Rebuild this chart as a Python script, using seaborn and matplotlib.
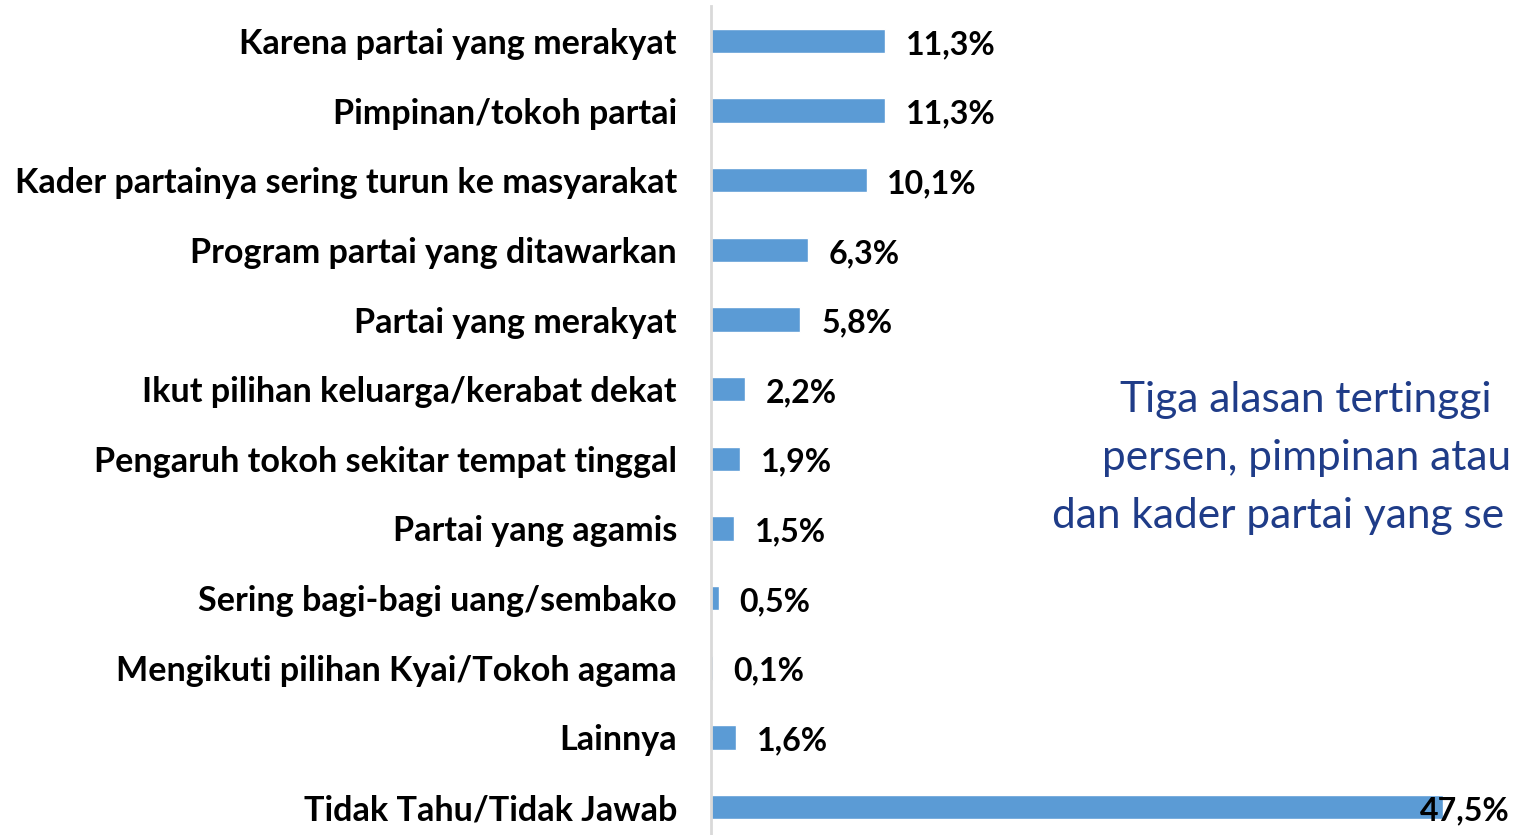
import matplotlib
matplotlib.use("Agg")
import matplotlib.pyplot as plt
import seaborn as sns

# ---------------- data ----------------
categories = [
    "Karena partai yang merakyat",
    "Pimpinan/tokoh partai",
    "Kader partainya sering turun ke masyarakat",
    "Program partai yang ditawarkan",
    "Partai yang merakyat",
    "Ikut pilihan keluarga/kerabat dekat",
    "Pengaruh tokoh sekitar tempat tinggal",
    "Partai yang agamis",
    "Sering bagi-bagi uang/sembako",
    "Mengikuti pilihan Kyai/Tokoh agama",
    "Lainnya",
    "Tidak Tahu/Tidak Jawab",
]
values = [11.3, 11.3, 10.1, 6.3, 5.8, 2.2, 1.9, 1.5, 0.5, 0.1, 1.6, 47.5]
value_labels = [f"{v:.1f}%".replace(".", ",") for v in values]
note_lines = [
    "Tiga alasan tertinggi",
    "persen, pimpinan atau",
    "dan kader partai yang se",
]

# ---------------- style ----------------
W, H, DPI = 1517, 835, 100
BAR = "#5B9BD5"
NOTE = "#1F3C88"
FONT = ["Lato", "DejaVu Sans"]

sns.set_style("white")
plt.rcParams["font.family"] = FONT

fig = plt.figure(figsize=(W / DPI, H / DPI), dpi=DPI)
renderer = fig.canvas.get_renderer()


def fit_size(text, weight, target_px, size0=20):
    t = fig.text(0, 0, text, fontsize=size0, weight=weight, family=FONT)
    w = t.get_window_extent(renderer).width
    t.remove()
    return size0 * target_px / w


cat_size = fit_size("Kader partainya sering turun ke masyarakat", "bold", 660)
val_size = fit_size("11,3%", "bold", 90)
note_size = fit_size("Tiga alasan tertinggi", "normal", 372)

x0 = 711
px_per_unit = 15.4
ax = fig.add_axes([x0 / W, 0, (W - x0) / W, 829 / H])
xmax = (W - x0) / px_per_unit

sns.barplot(x=values, y=categories, orient="h", color=BAR, saturation=1,
            width=0.35, ax=ax)

ax.set_xlim(0, xmax)
ax.set_ylim(11.402, -0.503)
ax.set_xlabel("")
ax.set_ylabel("")
ax.set_xticks([])
for s in ["top", "right", "bottom"]:
    ax.spines[s].set_visible(False)
ax.spines["left"].set_color("#D9D9D9")
ax.spines["left"].set_linewidth(2)
ax.tick_params(axis="y", length=0, pad=24.5)
for lab in ax.get_yticklabels():
    lab.set_fontsize(cat_size)
    lab.set_fontweight("bold")
    lab.set_color("black")

for i, (v, lbl) in enumerate(zip(values, value_labels)):
    if v > 0.8 * xmax:
        ax.annotate(lbl, xy=(xmax, i), xytext=(-5, -2.5), textcoords="offset points",
                    ha="right", va="center", fontsize=val_size, fontweight="bold",
                    color="black")
    else:
        ax.annotate(lbl, xy=(v, i), xytext=(15, -2.5), textcoords="offset points",
                    ha="left", va="center", fontsize=val_size, fontweight="bold",
                    color="black")

note_x = [1120, 1102, 1052]
note_y = [412, 470, 528]
for line, nx, ny in zip(note_lines, note_x, note_y):
    fig.text(nx / W, 1 - ny / H, line, ha="left", va="baseline",
             fontsize=note_size, color=NOTE)

fig.savefig("out.png", dpi=DPI)
